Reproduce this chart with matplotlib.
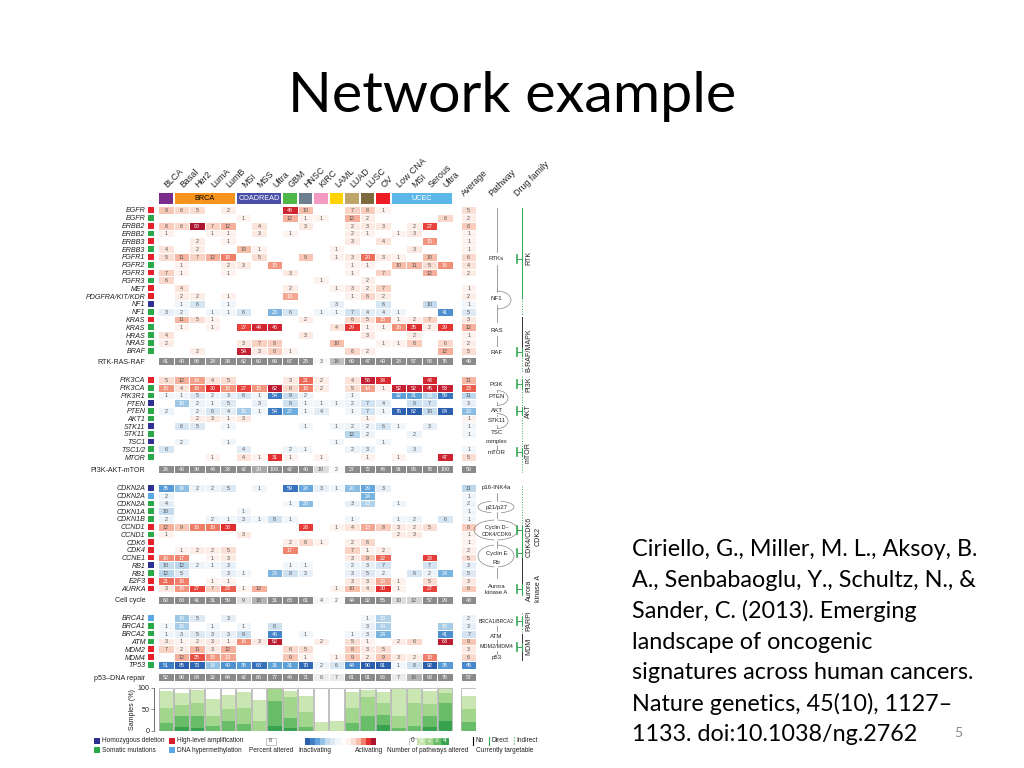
import numpy as np
import matplotlib
matplotlib.use("Agg")
import matplotlib.pyplot as plt
from matplotlib.colors import LinearSegmentedColormap, Normalize
from matplotlib.patches import Arc, Rectangle

W, H = 1024, 768
plt.rcParams['font.family'] = ['Liberation Sans', 'DejaVu Sans']

title = "Network example"
citation = ["Ciriello, G., Miller, M. L., Aksoy, B.",
            "A., Senbabaoglu, Y., Schultz, N., &",
            "Sander, C. (2013). Emerging",
            "landscape of oncogenic",
            "signatures across human cancers.",
            "Nature genetics, 45(10), 1127\u2013",
            "1133. doi:10.1038/ng.2762"]

columns = ["BLCA", "Basal", "Her2", "LumA", "LumB", "MSI", "MSS", "Ultra", "GBM", "HNSC", "KIRC",
           "LAML", "LUAD", "LUSC", "OV", "Low CNA", "MSI", "Serous", "Ultra"]
groups = [("", 0, 0, "#7b2d8b", "k"), ("BRCA", 1, 4, "#f7941d", "k"), ("COADREAD", 5, 7, "#4a50a8", "w"),
          ("", 8, 8, "#4db848", "k"), ("", 9, 9, "#6d7f8f", "k"), ("", 10, 10, "#f49ac2", "k"),
          ("", 11, 11, "#ffd200", "k"), ("", 12, 12, "#bfa56a", "k"), ("", 13, 13, "#7d6b3e", "k"),
          ("", 14, 14, "#ed1c24", "k"), ("UCEC", 15, 18, "#5bb7e8", "w")]

# type codes: a amplification (red), m mutation (green), d deletion (navy), h hypermethylation (light blue)
type_colors = {"a": "#e8202a", "m": "#2aa84a", "d": "#2e3192", "h": "#5aa9e6"}

genes1 = ["EGFR", "EGFR", "ERBB2", "ERBB2", "ERBB3", "ERBB3", "FGFR1", "FGFR2", "FGFR3", "FGFR3", "MET",
          "PDGFRA/KIT/KDR", "NF1", "NF1", "KRAS", "KRAS", "HRAS", "NRAS", "BRAF"]
types1 = "amamamamam" + "aadmammmm"
vals1 = [
    [9, 6, 5, 0, 2, 0, 0, 0, 46, 10, 0, 0, 7, 8, 1, 0, 0, 0, 0, 5],
    [0, 0, 0, 0, 0, 1, 0, 0, 12, 1, 1, 0, 12, 2, 0, 0, 0, 0, 6, 2],
    [8, 6, 80, 7, 12, 0, 4, 0, 0, 3, 0, 0, 2, 3, 3, 0, 2, 27, 0, 8],
    [1, 0, 0, 1, 1, 0, 3, 0, 1, 0, 0, 0, 2, 1, 0, 1, 3, 0, 0, 1],
    [0, 0, 2, 0, 1, 0, 0, 0, 0, 0, 0, 0, 3, 0, 4, 0, 0, 15, 0, 1],
    [4, 0, 2, 0, 0, 10, 1, 0, 0, 0, 0, 1, 0, 0, 0, 0, 3, 0, 0, 1],
    [5, 11, 7, 12, 18, 0, 5, 0, 0, 9, 0, 1, 3, 20, 3, 1, 0, 10, 0, 6],
    [0, 1, 0, 0, 2, 3, 0, 15, 0, 0, 0, 0, 1, 1, 0, 10, 11, 5, 16, 4],
    [7, 1, 0, 0, 1, 0, 0, 0, 3, 0, 0, 0, 1, 0, 7, 0, 0, 12, 0, 2],
    [6, 0, 0, 0, 0, 0, 0, 0, 0, 0, 1, 0, 0, 2, 0, 0, 0, 0, 0, 0],
    [0, 4, 0, 0, 0, 0, 0, 0, 2, 0, 0, 1, 3, 2, 7, 0, 0, 0, 0, 1],
    [0, 2, 2, 0, 1, 0, 0, 0, 13, 0, 0, 0, 1, 6, 2, 0, 0, 0, 0, 2],
    [0, -1, -6, 0, -1, 0, 0, 0, 0, 0, 0, -3, 0, 0, -6, 0, 0, -10, 0, -1],
    [-3, -2, 0, -1, -1, -6, 0, -23, -6, 0, -1, -1, -7, -4, -4, -1, 0, 0, -41, -5],
    [0, 11, 5, 1, 0, 0, 0, 0, 0, 2, 0, 0, 6, 5, 15, 1, 2, 7, 0, 3],
    [0, 1, 0, 1, 0, 27, 44, 46, 0, 0, 0, 4, 29, 1, 1, 16, 35, 2, 29, 12],
    [4, 0, 0, 0, 0, 0, 0, 0, 0, 3, 0, 0, 0, 3, 0, 0, 2, 0, 0, 1],
    [2, 0, 0, 0, 0, 3, 7, 8, 0, 0, 0, 10, 0, 0, 1, 1, 8, 0, 6, 2],
    [0, 0, 2, 0, 0, 54, 3, 8, 1, 0, 0, 0, 6, 2, 0, 0, 0, 0, 12, 5],
]
summary1 = [41, 40, 89, 24, 34, 62, 60, 69, 67, 25, 3, 16, 69, 47, 40, 28, 57, 58, 76, 49]

genes2 = ["PIK3CA", "PIK3CA", "PIK3R1", "PTEN", "PTEN", "AKT1", "STK11", "STK11", "TSC1", "TSC1/2", "MTOR"]
types2 = "ammdmmdmdmm"
vals2 = [
    [5, 12, 14, 4, 5, 0, 0, 0, 3, 21, 2, 0, 4, 58, 38, 0, 0, 43, 0, 11],
    [15, 4, 18, 30, 15, 27, 15, 62, 6, 18, 2, 0, 5, 14, 1, 52, 52, 45, 53, 23],
    [-1, -1, -5, -2, -3, -6, -1, -54, -9, -2, 0, 0, -1, 0, 0, -32, -31, -13, -59, -11],
    [0, -16, -2, -1, -5, 0, -3, 0, -8, -1, -1, -1, -2, -7, -4, 0, -8, -7, 0, -3],
    [-2, 0, -2, -6, -4, -15, -1, -54, -27, -1, -4, 0, -1, -7, -1, -76, -82, -10, -84, -20],
    [0, 0, 2, 3, 1, 3, 0, 0, 0, 0, 0, 0, 0, 1, 0, 0, 0, 0, 0, 1],
    [0, -6, -5, 0, -1, 0, 0, 0, 0, -1, 0, -1, -2, -2, -6, -1, 0, -3, 0, -1],
    [0, 0, 0, 0, 0, 0, 0, 0, 0, 0, 0, 0, -12, -2, 0, 0, -2, 0, 0, -1],
    [0, -2, 0, 0, -1, 0, 0, 0, 0, 0, 0, -1, 0, 0, -1, 0, 0, 0, 0, 0],
    [-6, 0, 0, 0, 0, -4, 0, 0, -2, -1, 0, 0, -2, -3, 0, 0, -3, 0, 0, -1],
    [0, 0, 0, 1, 0, 4, 1, 31, 1, 0, 1, 0, 0, 1, 0, 1, 0, 0, 47, 5],
]
summary2 = [26, 40, 39, 43, 33, 42, 20, 100, 42, 40, 10, 2, 27, 72, 46, 91, 95, 78, 100, 50]

genes3 = ["CDKN2A", "CDKN2A", "CDKN2A", "CDKN1A", "CDKN1B", "CCND1", "CCND1", "CDK6", "CDK4", "CCNE1",
          "RB1", "RB1", "E2F3", "AURKA"]
types3 = "dhmmmamaaadmaa"
vals3 = [
    [-35, -19, -2, -2, -5, 0, -1, 0, -59, -28, -3, -1, -20, -29, -3, 0, 0, 0, 0, -11],
    [-2, 0, 0, 0, 0, 0, 0, 0, 0, 0, 0, 0, 0, -24, 0, 0, 0, 0, 0, -1],
    [-4, 0, 0, 0, 0, 0, 0, 0, -1, -20, 0, 0, -3, -13, 0, -1, 0, 0, 0, -2],
    [-10, 0, 0, 0, 0, -1, 0, 0, 0, 0, 0, 0, 0, 0, 0, 0, 0, 0, 0, -1],
    [-2, 0, 0, -2, -1, -3, -1, -8, -1, 0, 0, 0, -1, 0, 0, -1, -2, 0, -6, -1],
    [12, 9, 18, 19, 33, 0, 0, 0, 0, 28, 0, 1, 4, 13, 8, 3, 2, 5, 0, 8],
    [1, 0, 0, 0, 0, 3, 0, 0, 0, 0, 0, 0, 0, 0, 0, 2, 3, 0, 0, 1],
    [0, 0, 0, 0, 0, 0, 0, 0, 2, 6, 1, 0, 2, 6, 0, 0, 0, 0, 0, 1],
    [0, 1, 2, 2, 5, 0, 0, 0, 17, 0, 0, 0, 7, 1, 2, 0, 0, 0, 0, 2],
    [16, 17, 0, 1, 3, 0, 0, 0, 0, 0, 0, 0, 3, 9, 22, 0, 0, 28, 0, 5],
    [-10, -12, -2, -1, -3, 0, 0, 0, -1, -1, 0, 0, -2, -3, -7, 0, 0, -7, 0, -3],
    [-12, -5, 0, 0, -3, -1, 0, -23, -8, -3, 0, 0, -3, -5, -2, 0, -6, -2, -24, -5],
    [21, 18, 0, 1, 1, 0, 0, 0, 0, 0, 0, 0, 3, 3, 13, 1, 0, 5, 0, 3],
    [3, 15, 27, 7, 23, 1, 12, 0, 0, 0, 0, 1, 10, 4, 30, 1, 0, 27, 0, 8],
]
summary3 = [60, 63, 41, 31, 59, 9, 18, 31, 83, 61, 4, 2, 44, 82, 55, 10, 12, 57, 29, 43]

genes4 = ["BRCA1", "BRCA1", "BRCA2", "ATM", "MDM2", "MDM4", "TP53"]
types4 = "hmmmaam"
vals4 = [
    [0, -16, -5, 0, -3, 0, 0, 0, 0, 0, 0, 0, 0, -1, -13, 0, 0, 0, 0, -2],
    [-1, -15, 0, -1, 0, -1, 0, -8, 0, 0, 0, 0, 0, -3, -14, 0, 0, 0, -15, -3],
    [-1, -3, -5, -3, -3, -9, 0, -46, 0, -1, 0, 0, -1, -3, -24, 0, 0, 0, -41, -7],
    [3, 1, 2, 3, 1, 16, 3, 62, 0, 0, 2, 0, 5, 1, 0, 2, 6, 0, 63, 9],
    [7, 2, 11, 3, 12, 0, 0, 0, 6, 5, 0, 0, 8, 3, 5, 0, 0, 0, 0, 3],
    [0, 12, 25, 15, 13, 0, 0, 0, 9, 1, 0, 1, 9, 2, 9, 3, 2, 18, 0, 6],
    [-51, -85, -73, -18, -40, -35, -63, -31, -31, -70, -2, -6, -44, -90, -91, -1, -8, -92, -35, -45],
]
summary4 = [52, 90, 84, 32, 64, 42, 66, 77, 48, 71, 6, 7, 61, 91, 96, 7, 18, 93, 76, 57]

summary_names = ["RTK-RAS-RAF", "PI3K-AKT-mTOR", "Cell cycle", "p53\u2013DNA repair"]

# percent of samples with 0, 1, 2, 3, 4 altered pathways
path0 = [8, 12, 5, 25, 17, 10, 27, 0, 5, 18, 80, 78, 9, 5, 9, 3, 2, 5, 0, 18]
path1 = [39, 27, 30, 41, 32, 37, 49, 0, 16, 39, 20, 22, 38, 17, 27, 63, 34, 31, 11, 31]
path2 = [35, 27, 31, 23, 29, 37, 23, 30, 48, 35, 0, 0, 36, 43, 28, 27, 54, 30, 25, 30]
path3 = [18, 25, 27, 10, 22, 16, 0, 60, 24, 8, 0, 0, 17, 35, 23, 7, 10, 24, 41, 21]
path4 = [0, 9, 7, 0, 0, 0, 0, 10, 6, 0, 0, 0, 0, 0, 13, 0, 0, 9, 23, 0]
path_colors = ["#ffffff", "#c9e6b3", "#a3d68d", "#69bd68", "#37a24f"]

heat_stops = [(-80, "#2c5eae"), (-50, "#3f7fc7"), (-30, "#5fa3da"), (-18, "#93c2e4"), (-10, "#c4dbee"),
              (-5, "#dde9f4"), (-1, "#f1f6fb"), (0, "#ffffff"), (1, "#fdf2ee"), (5, "#fbdfd4"), (10, "#f7bfab"),
              (18, "#ef7f68"), (30, "#e42f2e"), (55, "#c21f33"), (80, "#ab1530")]
heat_norm = Normalize(-80, 80)
heat_cmap = LinearSegmentedColormap.from_list(
    "heat", [((v + 80) / 160, c) for v, c in heat_stops], N=512)
gray_cmap = LinearSegmentedColormap.from_list(
    "sumgray", [(0, "#ffffff"), (0.06, "#f8f8f8"), (0.2, "#dedede"), (0.36, "#b4b4b4"), (0.5, "#8c8c8c"), (1, "#8a8a8a")])

# ---- layout (pixels) ----
X0, DX = 166.0, 15.5
AVG = 19.53
edges = np.r_[np.arange(-0.5, 19.0), 19.05, 20.01]
centers = np.r_[np.arange(19.0), AVG]


def rect(x0, ytop, x1, ybot):
    return [x0 / W, 1 - ybot / H, (x1 - x0) / W, (ybot - ytop) / H]


def col_px(c):
    return X0 + DX * c


fig = plt.figure(figsize=(W / 100, H / 100), dpi=100, facecolor="white")


def with_gap(row):
    return np.r_[row[:19], np.nan, row[19]]


def add_numbers(ax, arr, ys, white_at, dark="#555555"):
    for r, row in enumerate(arr):
        for x, v in zip(centers, row):
            if v != 0:
                ax.text(x, ys[r], str(abs(v)), ha="center", va="center_baseline", fontsize=3.9,
                        color="white" if abs(v) >= white_at else dark)


def heat_block(values, genes, types, y0, dy, sum_values, sum_name, sum_y):
    arr = np.array(values, float)
    n = len(arr)
    ax = fig.add_axes(rect(col_px(-0.5), y0 - dy / 2, col_px(20.01), y0 + (n - 0.5) * dy))
    grid = np.array([with_gap(r) for r in arr])
    grid = np.ma.masked_where(np.isnan(grid) | (grid == 0), grid)
    ax.pcolormesh(edges, np.arange(n + 1) - 0.5, grid, cmap=heat_cmap, norm=heat_norm,
                  edgecolors="white", linewidth=0.55)
    ax.set_xlim(edges[0], edges[-1])
    ax.set_ylim(n - 0.5, -0.5)
    add_numbers(ax, np.array(values), np.arange(n), 13)
    ax.set_xticks([])
    ax.set_yticks(np.arange(n))
    ax.set_yticklabels(genes, fontsize=5.1, style="italic", color="#222222")
    ax.tick_params(axis="y", length=0, pad=9.2)
    ax.scatter(np.full(n, -0.99), np.arange(n), s=17, marker="s",
               c=[type_colors[t] for t in types], clip_on=False, linewidths=0)
    for s in ax.spines.values():
        s.set_visible(False)
    ax.patch.set_alpha(0)

    sx = fig.add_axes(rect(col_px(-0.5), sum_y - 3.9, col_px(20.01), sum_y + 3.9))
    sg = np.ma.masked_invalid(with_gap(np.array(sum_values, float))[None, :])
    sx.pcolormesh(edges, [-0.5, 0.5], sg, cmap=gray_cmap, vmin=0, vmax=50,
                  edgecolors="white", linewidth=0.55)
    sx.set_xlim(edges[0], edges[-1])
    sx.set_ylim(0.5, -0.5)
    add_numbers(sx, [sum_values], [0], 20)
    sx.set_xticks([])
    sx.set_yticks([0])
    sx.set_yticklabels([sum_name], fontsize=5.1, color="#222222")
    sx.tick_params(axis="y", length=0, pad=9.2)
    for s in sx.spines.values():
        s.set_visible(False)
    sx.patch.set_alpha(0)


heat_block(vals1, genes1, types1, 210, 7.82, summary1, summary_names[0], 361)
heat_block(vals2, genes2, types2, 380, 7.7, summary2, summary_names[1], 469)
heat_block(vals3, genes3, types3, 488, 7.73, summary3, summary_names[2], 600)
heat_block(vals4, genes4, types4, 618, 7.8, summary4, summary_names[3], 677)

# ---- header band and rotated column labels ----
hx = fig.add_axes(rect(col_px(-0.5), 193, col_px(20.01), 203.5))
hx.set_xlim(edges[0], edges[-1])
hx.set_ylim(0, 1)
for name, a, b, color, tc in groups:
    hx.barh(0.5, b - a + 0.9, left=a - 0.45, height=1, color=color)
    if name:
        hx.text((a + b) / 2, 0.47, name, ha="center", va="center", fontsize=5.2, color=tc)
hx.xaxis.tick_top()
hx.set_xticks(np.arange(19.0) + 0.2)
hx.set_xticklabels(columns, rotation=45, ha="left", va="bottom",
                   rotation_mode="anchor", fontsize=6.4, color="#222222")
hx.tick_params(axis="x", length=0, pad=2.8)
hx.set_yticks([])
for s in hx.spines.values():
    s.set_visible(False)
hx.patch.set_alpha(0)

# ---- stacked pathway bars ----
bx = fig.add_axes(rect(col_px(-0.5), 688, col_px(20.01), 730.5))
bottom = np.zeros(20)
stack = [path4, path3, path2, path1, path0]
for vals, color in zip(stack, path_colors[::-1]):
    v = np.array(vals, float)
    bx.bar(centers, v, bottom=bottom, width=0.94, color=color, linewidth=0)
    bottom += v
bx.bar(centers, bottom, width=0.94, fill=False, edgecolor="#b5b5b5", linewidth=0.6)
bx.set_xlim(edges[0], edges[-1])
bx.set_ylim(0, 100)
bx.set_xticks([])
bx.set_yticks([0, 50, 100])
bx.tick_params(axis="y", labelsize=5.1, length=2, width=0.4, pad=1, color="#444444", labelcolor="#222222")
bx.set_ylabel("Samples (%)", fontsize=5.1, labelpad=1.5, color="#222222")
for k in ("top", "right", "bottom"):
    bx.spines[k].set_visible(False)
bx.spines["left"].set_position(("outward", 3))
bx.spines["left"].set_linewidth(0.4)
bx.patch.set_alpha(0)

# ---- overlay in pixels: slide text, schematic, legend ----
ov = fig.add_axes([0, 0, 1, 1], zorder=10)
ov.set_xlim(0, W)
ov.set_ylim(H, 0)
ov.axis("off")
ov.patch.set_alpha(0)

ov.text(512, 97, title, ha="center", va="center", fontsize=41.4, family="Lato", color="black")
for i, line in enumerate(citation):
    ov.text(632, 550 + 30.7 * i, line, ha="left", va="center", fontsize=16.8, family="Lato", color="black")
ov.text(958, 733, "5", ha="center", va="center", fontsize=10, family="Lato", color="#8a8a8a")

side_headers = [("Average", 466, 198), ("Pathway", 493, 198), ("Drug family", 519, 198)]
for name, x, y in side_headers:
    ov.text(x, y, name, rotation=45, ha="left", va="bottom", rotation_mode="anchor", fontsize=6.4, color="#222222")

path_labels = [("RTKs", 258.5, 4.4), ("NF1", 299, 4.4), ("RAS", 330, 4.4), ("RAF", 352, 4.4), ("PI3K", 385, 4.4),
               ("PTEN", 396.5, 4.4), ("AKT", 410, 4.4), ("STK11", 420, 4.4), ("TSC", 433, 4.4), ("complex", 441, 4.2),
               ("mTOR", 453, 4.4), ("p16-INK4a", 488, 4.4), ("p21/p27", 507.5, 4.4), ("Cyclin D\u2013", 527, 4),
               ("CDK4/CDK6", 534, 3.9), ("Cyclin E", 553, 4.2), ("Rb", 563, 4.4), ("Aurora", 586, 4.2),
               ("kinase A", 593, 4.2), ("BRCA1/BRCA2", 621.5, 3.7), ("ATM", 636, 4.4), ("MDM2/MDM4", 647, 3.9),
               ("p53", 658, 4.4)]
for name, y, size in path_labels:
    ov.text(496.5, y, name, ha="center", va="center", fontsize=size, color="#222222",
            bbox=dict(facecolor="white", edgecolor="none", pad=0.3))

path_segments = [(208, 252), (265, 292), (305, 322), (336, 346), (390, 392), (402, 405), (415, 416),
                 (425, 428), (445, 449), (493, 501), (512, 518), (541, 548), (568, 578), (626, 631), (640, 643), (651, 654)]
for a, b in path_segments:
    ov.plot([496.7, 496.7], [a, b], color="#777777", lw=0.5, zorder=0)
arcs = [(497, 300, 28, 18, -90, 90), (497, 398, 22, 15, -90, 90), (497, 421, 22, 15, -90, 90),
        (496, 507, 36, 12, 130, 230), (496, 507, 36, 12, -50, 50),
        (496, 530, 44, 20, 100, 260), (496, 530, 44, 20, -80, 80),
        (496, 556, 36, 22, 100, 260), (496, 556, 36, 22, -80, 80)]
for cx, cy, w, h, t1, t2 in arcs:
    ov.add_patch(Arc((cx, cy), w, h, theta1=t1, theta2=t2, lw=0.45, color="#777777", zorder=0))

GREEN = "#35a854"
drug_lines = [(208, 298, GREEN, "-"), (298, 316, GREEN, ":"), (317, 347, "#333333", "-"), (347, 372, GREEN, ":"),
              (376, 472, GREEN, ":"), (486, 528, GREEN, ":"), (532, 556, GREEN, "-"), (558, 584, "#333333", "-"),
              (584, 595, GREEN, "-"), (613, 634, GREEN, ":"), (634, 660, "#333333", "-")]
for a, b, c, ls in drug_lines:
    ov.plot([521.7, 521.7], [a, b], color=c, ls=ls, lw=0.7)
for y in [258.5, 352, 384, 411, 452, 530, 553, 589, 621, 647]:
    ov.plot([517, 517], [y - 4, y + 4], color=GREEN, lw=1.2)
    ov.plot([517, 521.7], [y, y], color=GREEN, lw=0.7)
    ov.plot([521.7, 521.7], [y - 4, y + 4], color=GREEN, lw=0.8)

drug_labels = [("RTK", 528.5, 258), ("B-RAF/MAPK", 528.5, 350), ("PI3K", 528.5, 384), ("AKT", 528.5, 411),
               ("mTOR", 528.5, 453), ("CDK4/CDK6", 529, 537), ("CDK2", 537.7, 536), ("Aurora", 529, 590),
               ("kinase A", 538, 588), ("PARPi", 529, 621), ("MDM", 529, 646)]
for name, x, y in drug_labels:
    ov.text(x, y, name, rotation=90, ha="center", va="center", fontsize=5.1, color="#222222")

# legend
legend_items = [(97, 741, "#2e3192", "Homozygous deletion"), (97, 750, "#2aa84a", "Somatic mutations"),
                (172, 741, "#d7202c", "High-level amplification"), (172, 750, "#5aa9e6", "DNA hypermethylation")]
for x, y, c, name in legend_items:
    ov.add_patch(Rectangle((x - 3.3, y - 3.3), 6.6, 6.6, color=c, lw=0))
    ov.text(x + 5.2, y, name, ha="left", va="center", fontsize=4.7, color="#222222")
ov.add_patch(Rectangle((265.5, 737.5), 10.5, 7, fc="white", ec="#999999", lw=0.4))
ov.text(270.7, 741, "8", ha="center", va="center", fontsize=3.9, color="#333333")
ov.text(271, 750, "Percent altered", ha="center", va="center", fontsize=4.7, color="#222222")
ov.text(315, 750, "Inactivating", ha="center", va="center", fontsize=4.7, color="#222222")
ov.text(369, 750, "Activating", ha="center", va="center", fontsize=4.7, color="#222222")
ov.text(428, 750, "Number of pathways altered", ha="center", va="center", fontsize=4.7, color="#222222")
ov.text(505, 750, "Currently targetable", ha="center", va="center", fontsize=4.7, color="#222222")
ov.plot([473, 473], [737, 745], color="black", lw=0.8)
ov.text(475.5, 741, "No", ha="left", va="center", fontsize=4.7, color="#222222")
ov.plot([489, 489], [737, 745], color=GREEN, lw=0.8)
ov.text(491.5, 741, "Direct", ha="left", va="center", fontsize=4.7, color="#222222")
ov.plot([514, 514], [737, 745], color=GREEN, lw=0.8, ls=":")
ov.text(516.5, 741, "Indirect", ha="left", va="center", fontsize=4.7, color="#222222")

ramp_values = [-80, -50, -30, -18, -10, -5, -1, 0, 1, 5, 10, 18, 30, 80]
rx = fig.add_axes(rect(305, 737.5, 376, 744.5))
rx.pcolormesh(np.arange(len(ramp_values) + 1), [0, 1], np.array([ramp_values], float), cmap=heat_cmap, norm=heat_norm)
rx.axis("off")

count_labels = ["0", "1", "2", "3", "4"]
cx = fig.add_axes(rect(409, 737.5, 449, 744.5))
for i, c in enumerate(path_colors):
    cx.bar(i, 1, width=0.92, color=c, edgecolor="#999999" if i == 0 else c, linewidth=0.4)
    cx.text(i, 0.5, count_labels[i], ha="center", va="center", fontsize=4.7, color="#222222" if i == 0 else "white")
cx.set_xlim(-0.5, 4.5)
cx.set_ylim(0, 1)
cx.axis("off")

fig.savefig("out.png", dpi=100, facecolor="white")
